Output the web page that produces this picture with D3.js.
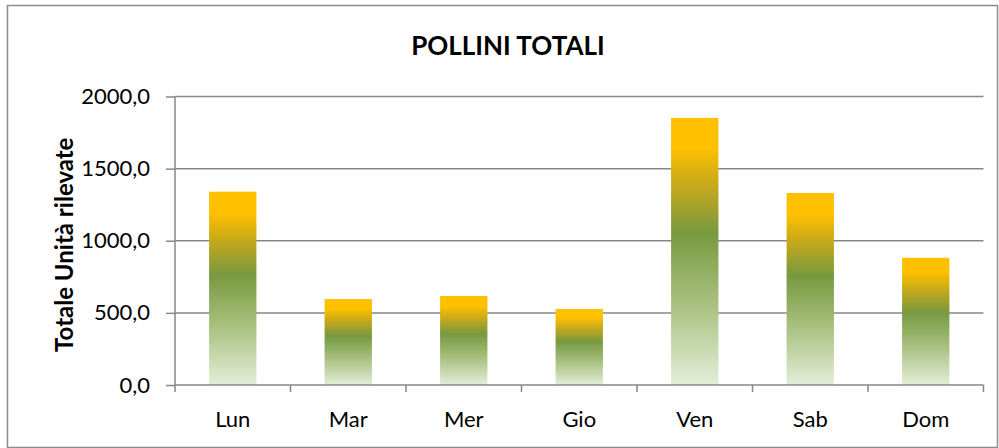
<!DOCTYPE html>
<html>
<head>
<meta charset="utf-8">
<script src="https://cdn.jsdelivr.net/npm/d3@7"></script>
<style>
  html, body { margin: 0; padding: 0; background: #fff; }
  svg { display: block; }
</style>
</head>
<body>
<svg id="chart" width="999" height="448"></svg>
<script>
// dati
const giorni = ["Lun", "Mar", "Mer", "Gio", "Ven", "Sab", "Dom"];
const totali = [1340, 596, 617, 527, 1852, 1331, 882];
const tickValori = [0, 500, 1000, 1500, 2000];

const W = 999, H = 448;
const margin = { top: 96.5, right: 16, bottom: 63, left: 175 };
const plotRight = 983.5;
const font = "Lato, 'Open Sans', 'Liberation Sans', sans-serif";
const grigio = "#878787";

const svg = d3.select("#chart");

// cornice esterna
svg.append("rect")
    .attr("x", 7.5).attr("y", 5.5)
    .attr("width", 990).attr("height", 442)
    .attr("fill", "#fff")
    .attr("stroke", "#8c8c8c")
    .attr("stroke-width", 1.5);

// gradiente delle barre (giallo in alto, verde, chiaro in basso)
const grad = svg.append("defs").append("linearGradient")
    .attr("id", "barGrad")
    .attr("x1", 0).attr("y1", 0).attr("x2", 0).attr("y2", 1);
[
    [0, "#FFC000"],
    [0.11, "#FFC000"],
    [0.26, "#C4A81C"],
    [0.43, "#77993F"],
    [0.7, "#A9C181"],
    [1, "#E4EED8"]
].forEach(([o, c]) => grad.append("stop").attr("offset", o).attr("stop-color", c));

const x = d3.scaleBand()
    .domain(giorni)
    .range([margin.left, plotRight])
    .paddingInner(0.59)
    .paddingOuter(0.295);

const y = d3.scaleLinear()
    .domain([0, 2000])
    .range([H - margin.bottom, margin.top]);

// griglia orizzontale
svg.append("g")
    .selectAll("line")
    .data(tickValori.filter(d => d > 0))
    .enter().append("line")
    .attr("x1", margin.left)
    .attr("x2", plotRight)
    .attr("y1", d => y(d))
    .attr("y2", d => y(d))
    .attr("stroke", grigio)
    .attr("stroke-width", 1.5);

// barre
svg.append("g")
    .selectAll("rect")
    .data(giorni)
    .enter().append("rect")
    .attr("x", d => x(d))
    .attr("width", x.bandwidth())
    .attr("y", (d, i) => y(totali[i]))
    .attr("height", (d, i) => y(0) - y(totali[i]))
    .attr("fill", "url(#barGrad)");

// asse y
const yAxis = svg.append("g")
    .attr("transform", `translate(${margin.left},0)`)
    .call(d3.axisLeft(y)
        .tickValues(tickValori)
        .tickSize(9)
        .tickPadding(16)
        .tickFormat(d => d3.format(".1f")(d).replace(".", ",")));

// asse x
const step = x.step();
const xTicks = d3.range(giorni.length + 1).map(i => margin.left + i * step);
const xAxis = svg.append("g")
    .attr("transform", `translate(0,${y(0)})`);
xAxis.append("line")
    .attr("x1", margin.left).attr("x2", plotRight)
    .attr("stroke", grigio).attr("stroke-width", 1.5);
xAxis.selectAll("line.tick")
    .data(xTicks)
    .enter().append("line")
    .attr("class", "tick")
    .attr("x1", d => d).attr("x2", d => d)
    .attr("y1", 0).attr("y2", 7)
    .attr("stroke", grigio).attr("stroke-width", 1.5);
xAxis.selectAll("text")
    .data(giorni)
    .enter().append("text")
    .attr("x", d => x(d) + x.bandwidth() / 2)
    .attr("y", 42)
    .attr("text-anchor", "middle")
    .attr("font-family", font)
    .attr("font-size", 22)
    .attr("fill", "#000")
    .text(d => d);

yAxis.select(".domain").attr("stroke", grigio).attr("stroke-width", 1.5)
    .attr("d", `M0,${y(2000)}V${y(0)}`);
yAxis.selectAll(".tick line").attr("stroke", grigio).attr("stroke-width", 1.5);
yAxis.selectAll(".tick text")
    .attr("font-family", font)
    .attr("font-size", 22)
    .attr("fill", "#000");

// titolo
svg.append("text")
    .attr("x", 508).attr("y", 55)
    .attr("text-anchor", "middle")
    .attr("font-family", font)
    .attr("font-weight", "bold")
    .attr("font-size", 26)
    .text("POLLINI TOTALI");

// etichetta asse y
svg.append("text")
    .attr("transform", `translate(73,${(y(0) + y(2000)) / 2 + 4}) rotate(-90)`)
    .attr("text-anchor", "middle")
    .attr("font-family", font)
    .attr("font-weight", "bold")
    .attr("font-size", 24)
    .text("Totale Unità rilevate");
</script>
</body>
</html>
